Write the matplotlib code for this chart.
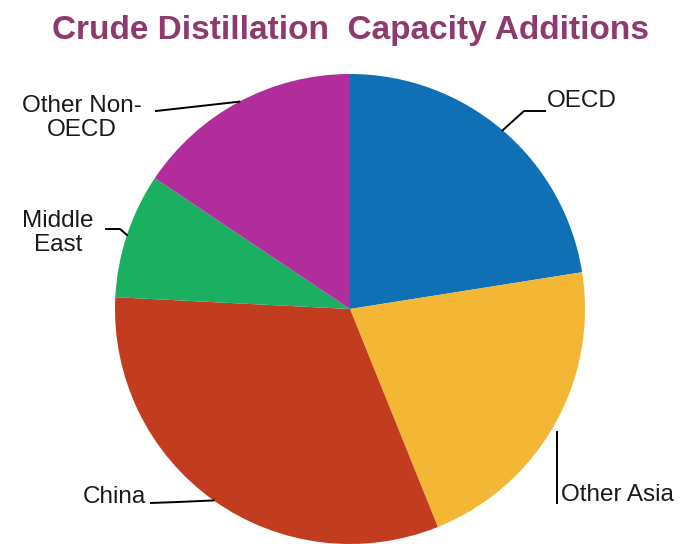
import numpy as np
import matplotlib.pyplot as plt

# Share of capacity additions (in %)
regions = ["OECD", "Other Asia", "China", "Middle\nEast", "Other Non-\nOECD"]
shares = [22.5, 21.4, 31.9, 8.6, 15.6]
colors = ["#1070B6", "#F4B735", "#C23C20", "#1BAF62", "#B22D9C"]

# figure is 694x544 px, pie centre and radius in pixels
W, H = 694, 544
cx, cy, r = 350, 309, 235

plt.rcParams['font.family'] = ['Liberation Sans', 'DejaVu Sans']

fig = plt.figure(figsize=(W / 100, H / 100), dpi=100)
ax = fig.add_axes([(cx - r) / W, (H - cy - r) / H, 2 * r / W, 2 * r / H])
wedges, _ = ax.pie(shares, colors=colors, startangle=90, counterclock=False,
                   radius=1, wedgeprops=dict(linewidth=0))
ax.set_xlim(-1, 1)
ax.set_ylim(-1, 1)
ax.set_aspect('equal')
ax.axis('off')

def to_data(px, py):
    return (px - cx) / r, (cy - py) / r

# leader line path after the anchor, then text position (pixels), alignment
layout = {
    "OECD": ([(524, 111), (545, 111)], (547, 101), 'left'),
    "Other Asia": ([(557, 503)], (561, 495), 'left'),
    "China": ([(178, 502), (151, 503)], (146, 497), 'right'),
    "Middle\nEast": ([(120, 229), (106, 229)], (58, 233), 'center'),
    "Other Non-\nOECD": ([(156, 111)], (82, 118), 'center'),
}

for w, name in zip(wedges, regions):
    mid = np.deg2rad((w.theta1 + w.theta2) / 2)
    ax_, ay_ = np.cos(mid), np.sin(mid)
    path, txt, ha = layout[name]
    if name == "Other Asia":
        xs = [to_data(557, 0)[0], to_data(557, 0)[0]]
        ys = [ay_ - 0.03, to_data(0, path[0][1])[1]]
    else:
        pts = [(ax_, ay_)] + [to_data(*p) for p in path]
        xs = [p[0] for p in pts]
        ys = [p[1] for p in pts]
    ax.plot(xs, ys, color='black', lw=1.4, clip_on=False)
    tx, ty = to_data(*txt)
    ax.text(tx, ty, name, ha=ha, va='center', fontsize=17.5, color='#1a1a1a',
            linespacing=1.1, multialignment='center')

fig.text(350 / W, 1 - 30 / H, "Crude Distillation  Capacity Additions",
         ha='center', va='center', fontsize=24, fontweight='bold', color='#8E3A6E')

fig.savefig("out.png", dpi=100)
